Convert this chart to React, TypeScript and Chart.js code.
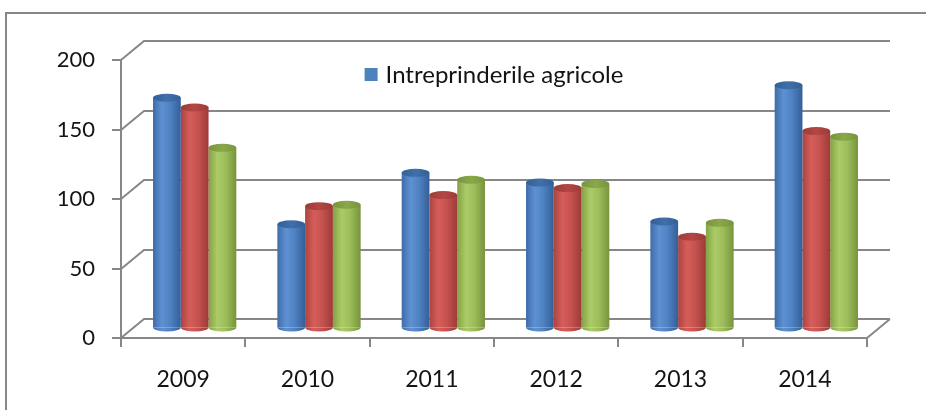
import { useEffect, useRef } from "react";
import { Chart, registerables } from "chart.js";

Chart.register(...registerables);

// ---- data ----
const categories = ["2009", "2010", "2011", "2012", "2013", "2014"];
const seriesNames = ["Intreprinderile agricole", "Seria 2", "Seria 3"];
const agricole = [166, 75, 112, 105, 77, 175];
const series2 = [159, 88, 96, 101, 66, 142];
const series3 = [130, 89, 107, 104, 76, 138];
const yMin = 0;
const yMax = 200;
const yStep = 50;

// ---- style ----
const FONT = "Lato, 'Open Sans', sans-serif";
const GRID = "#878787";
const TEXT = "#141414";
const DEPTH_X = 23;
const DEPTH_Y = 19;
const CAT_PCT = 0.67;
const RY = 4;

const palettes = [
  { edgeL: "#3f6ca8", hi: "#5d91d3", mid: "#4f82c2", edgeR: "#345f98", cap: "#416fa9", solid: "#4f81bd" },
  { edgeL: "#ac4340", hi: "#d65e5a", mid: "#c5524f", edgeR: "#9c3b38", cap: "#b34744", solid: "#c0504d" },
  { edgeL: "#84a244", hi: "#abcb68", mid: "#9dbd5a", edgeR: "#77943c", cap: "#8aa84a", solid: "#9bbb59" },
];

function cylGradient(ctx: CanvasRenderingContext2D, left: number, right: number, p: any) {
  const g = ctx.createLinearGradient(left, 0, right, 0);
  g.addColorStop(0, p.edgeL);
  g.addColorStop(0.32, p.hi);
  g.addColorStop(0.62, p.mid);
  g.addColorStop(1, p.edgeR);
  return g;
}

const framePlugin = {
  id: "frame3d",
  beforeDraw(chart: any) {
    const ctx = chart.ctx;
    ctx.save();
    ctx.strokeStyle = GRID;
    ctx.lineWidth = 2;
    ctx.strokeRect(6, 13, 3000, 3000);
    ctx.restore();
  },
  beforeDatasetsDraw(chart: any) {
    const ctx = chart.ctx;
    const ys = chart.scales.y;
    const { left, right } = chart.chartArea;
    ctx.save();
    ctx.strokeStyle = GRID;
    ctx.lineWidth = 2;
    ctx.beginPath();
    for (let v = yMin; v <= yMax; v += yStep) {
      const y = Math.round(ys.getPixelForValue(v));
      ctx.moveTo(left, y);
      ctx.lineTo(left + DEPTH_X, y - DEPTH_Y);
      ctx.lineTo(right + DEPTH_X, y - DEPTH_Y);
      if (v === yMin) {
        ctx.moveTo(right, y);
        ctx.lineTo(right + DEPTH_X, y - DEPTH_Y);
      }
    }
    ctx.stroke();
    ctx.restore();
    // shift bars to the middle depth of the 3D box
    ctx.save();
    ctx.translate(DEPTH_X / 2, -DEPTH_Y / 2);
  },
  afterDatasetsDraw(chart: any) {
    const ctx = chart.ctx;
    chart.data.datasets.forEach((_: any, di: number) => {
      const meta = chart.getDatasetMeta(di);
      const p = palettes[di];
      meta.data.forEach((el: any) => {
        const { x, y, base, width } = el.getProps(["x", "y", "base", "width"], true);
        const rx = width / 2;
        ctx.beginPath();
        ctx.ellipse(x, base, rx, RY, 0, 0, Math.PI);
        ctx.fillStyle = cylGradient(ctx, x - rx, x + rx, p);
        ctx.fill();
        const g = ctx.createLinearGradient(x - rx, 0, x + rx, 0);
        g.addColorStop(0, p.edgeR);
        g.addColorStop(0.5, p.cap);
        g.addColorStop(1, p.edgeR);
        ctx.beginPath();
        ctx.ellipse(x, y, rx, RY, 0, 0, Math.PI * 2);
        ctx.fillStyle = g;
        ctx.fill();
      });
    });
    ctx.restore();
  },
  afterDraw(chart: any) {
    const ctx = chart.ctx;
    const ca = chart.chartArea;
    const label = chart.data.datasets[0].label;
    ctx.save();
    ctx.font = `24px ${FONT}`;
    const tw = ctx.measureText(label).width;
    const box = 13;
    const gap = 8;
    const total = box + gap + tw;
    const x0 = (ca.left + ca.right) / 2 - total / 2;
    const cy = ca.top + 14.5;
    ctx.fillStyle = palettes[0].solid;
    ctx.fillRect(x0, cy - box / 2, box, box);
    ctx.fillStyle = TEXT;
    ctx.textBaseline = "middle";
    ctx.textAlign = "left";
    ctx.fillText(label, x0 + box + gap, cy + 1);
    ctx.restore();
  },
};

function makeDataset(label: string, data: number[], i: number) {
  return {
    label,
    data,
    clip: false,
    borderWidth: 0,
    categoryPercentage: CAT_PCT,
    barPercentage: 1,
    backgroundColor: (c: any) => {
      const chart = c.chart;
      const xs = chart.scales && chart.scales.x;
      if (!xs || c.dataIndex === undefined || !xs.width) return palettes[i].solid;
      const center = xs.getPixelForValue(c.dataIndex);
      const catW = xs.width / categories.length;
      const barW = (catW * CAT_PCT) / 3;
      const left = center - (catW * CAT_PCT) / 2 + i * barW;
      return cylGradient(chart.ctx, left, left + barW, palettes[i]);
    },
  };
}

export default function App() {
  const ref = useRef<HTMLCanvasElement | null>(null);
  useEffect(() => {
    if (!ref.current) return;
    const chart = new Chart(ref.current, {
      type: "bar",
      data: {
        labels: categories,
        datasets: [
          makeDataset(seriesNames[0], agricole, 0),
          makeDataset(seriesNames[1], series2, 1),
          makeDataset(seriesNames[2], series3, 2),
        ] as any,
      },
      options: {
        animation: false,
        responsive: true,
        maintainAspectRatio: false,
        devicePixelRatio: 1,
        layout: { padding: { top: 60, left: 0, right: 59, bottom: 0 } },
        plugins: { legend: { display: false }, tooltip: { enabled: false } },
        scales: {
          x: {
            offset: true,
            grid: { offset: true, drawOnChartArea: false, drawTicks: true, tickLength: 9, color: GRID, lineWidth: 2 },
            border: { display: true, color: GRID, width: 2 },
            ticks: { color: TEXT, padding: 19, font: { family: FONT, size: 23 }, maxRotation: 0 },
            afterFit: (s: any) => { s.height = 72; },
          },
          y: {
            min: yMin,
            max: yMax,
            grid: { drawOnChartArea: false, drawTicks: true, tickLength: 9, color: GRID, lineWidth: 2 },
            border: { display: true, color: GRID, width: 2 },
            ticks: { stepSize: yStep, color: TEXT, padding: 17, font: { family: FONT, size: 22 } },
            afterFit: (s: any) => { s.width = 121; },
          },
        },
      } as any,
      plugins: [framePlugin],
    });
    return () => chart.destroy();
  }, []);
  return (
    <div style={{ position: "absolute", left: 0, top: 0, width: 926, height: 410 }}>
      <canvas ref={ref} />
    </div>
  );
}
